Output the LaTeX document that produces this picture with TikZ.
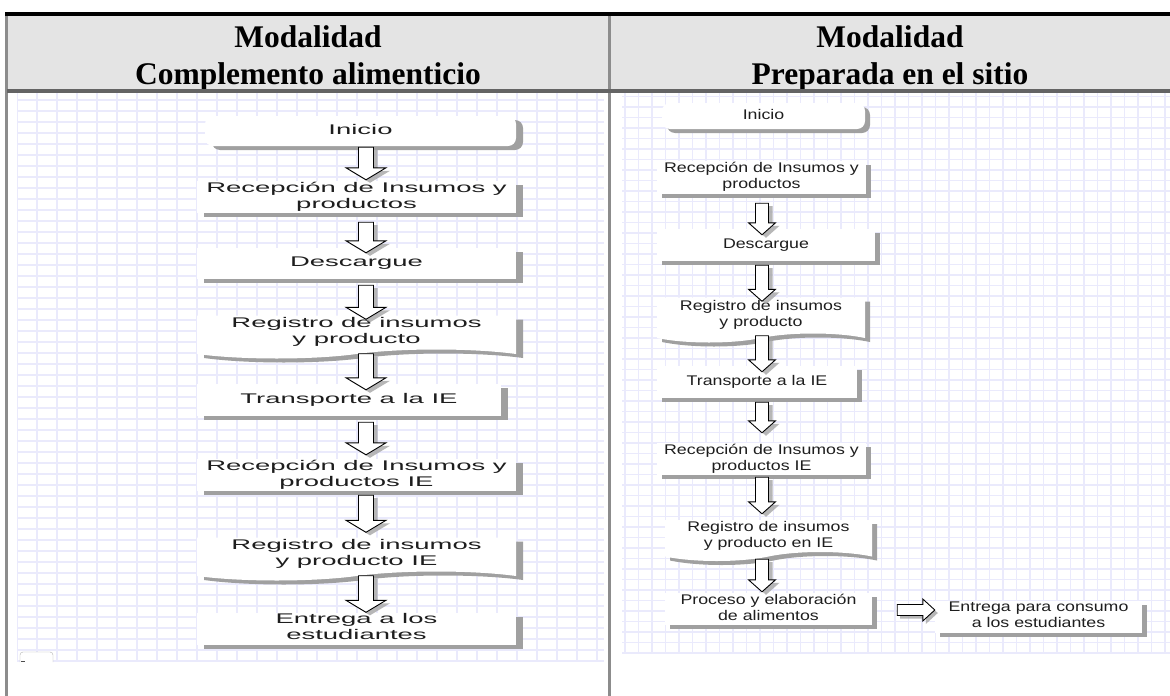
\documentclass[tikz,border=0pt]{standalone}
\usepackage{fontspec}
\setmainfont{Liberation Serif}
\newfontfamily\arialish{Liberation Sans}
\usetikzlibrary{calc,shapes.symbols,shadows}

\definecolor{hdrbg}{RGB}{228,228,228}
\definecolor{rulegray}{RGB}{140,140,140}
\definecolor{hdrline}{RGB}{100,100,100}
\definecolor{gridline}{RGB}{234,234,252}
\definecolor{boxshadow}{RGB}{160,160,160}
\definecolor{txt}{RGB}{30,30,30}

% flow-box labels, stretched horizontally as in the two charts
\newcommand\lcol[1]{\scalebox{1.96}[1]{\begin{tabular}{@{}c@{}}#1\end{tabular}}}
\newcommand\rcol[1]{\scalebox{1.27}[1]{\begin{tabular}{@{}c@{}}#1\end{tabular}}}

% hollow block arrow pointing down, tail (ta) to tip (tb); #1,#2 offset, #3 shaft half width, #4 head half width
\newcommand\vblockpath[4]{($(ta)+({-#3+#1},#2)$) -- ($(ta)+({#3+#1},#2)$) -- ($(tb)+({#3+#1},{-12+#2})$) -- ($(tb)+({#4+#1},{-12+#2})$) -- ($(tb)+(#1,#2)$) -- ($(tb)+({-#4+#1},{-12+#2})$) -- ($(tb)+({-#3+#1},{-12+#2})$) -- cycle}
% hollow block arrow pointing right
\newcommand\hblockpath[4]{($(ta)+(#1,{-#3+#2})$) -- ($(ta)+(#1,{#3+#2})$) -- ($(tb)+({-12+#1},{#3+#2})$) -- ($(tb)+({-12+#1},{#4+#2})$) -- ($(tb)+(#1,#2)$) -- ($(tb)+({-12+#1},{-#4+#2})$) -- ($(tb)+({-12+#1},{-#3+#2})$) -- cycle}

% column, source node, target node, tail offset, tip offset, shaft half width, head half width
\newcommand\downblock[7]{%
  \path ($(#2.south -| #1)+(0,#4)$) coordinate (ta) ($(#3.north -| #1)+(0,#5)$) coordinate (tb);
  \fill[arrowshade] \vblockpath{4}{3}{#6}{#7};
  \draw[blockarrow] \vblockpath{0}{0}{#6}{#7};}

\tikzset{
  gridln/.style={draw=gridline, line width=1.1pt},
  hdr/.style={anchor=base, inner sep=0pt, font=\bfseries\fontsize{31.5}{38}\selectfont},
  flowbox/.style={fill=white, inner sep=0pt, text=txt,
    font=\arialish\fontsize{14}{16}\selectfont},
  lbox/.style={flowbox, drop shadow={shadow xshift=7pt, shadow yshift=-4pt, fill=boxshadow, opacity=1}},
  rbox/.style={flowbox, drop shadow={shadow xshift=5pt, shadow yshift=-4pt, fill=boxshadow, opacity=1}},
  startbox/.style={rounded corners=8pt},
  docbox/.style={shape=tape, tape bend top=none, tape bend bottom=in and out, tape bend height=9pt},
  blockarrow/.style={draw=black, fill=white, line width=0.9pt, line join=miter},
  arrowshade/.style={fill=black!35, opacity=0.8},
}

\begin{document}
\begin{tikzpicture}[x=1pt, y=-1pt]
\useasboundingbox (0,0) rectangle (1170,696);
\fill[white] (0,0) rectangle (1170,696);

% table header
\fill[hdrbg] (7,16) rectangle (1170,89);
\fill[black] (5,12) rectangle (1170,16);
\fill[rulegray] (5,16) rectangle (8,696);
\fill[rulegray] (608,16) rectangle (611,696);

\node[hdr] (hl1) at (308,47) {Modalidad};
\node[hdr] (hl2) at (308,84) {Complemento alimenticio};
\node[hdr] (hr1) at (890,47) {Modalidad};
\node[hdr] (hr2) at (890,84) {Preparada en el sitio};

\fill[hdrline] (7,89) rectangle (1170,92.5);

% grid paper behind each chart
\begin{scope}
  \clip (17,93) rectangle (604,661);
  \foreach \k in {0,...,29} \draw[gridln] ({17+20*\k},93) -- ({17+20*\k},661);
  \foreach \k in {0,...,52} \draw[gridln] (17,{661-11*\k}) -- (604,{661-11*\k});
\end{scope}
\begin{scope}
  \clip (622,93) rectangle (1170,653);
  \foreach \k in {0,...,41} \draw[gridln] ({625+13.5*\k},93) -- ({625+13.5*\k},653);
  \foreach \k in {0,...,54} \draw[gridln] (622,{653-10.5*\k}) -- (1170,{653-10.5*\k});
\end{scope}

% leftover corner of a control at the bottom left
\draw[black!30, fill=white, rounded corners=3pt] (20,662) -- (20,652) -- (53,652) -- (53,662);
\draw[black!70, line width=0.8pt] (21,661) -- (25,661);

% left chart
\coordinate (colL) at (366,0);
\node[lbox, startbox, minimum width=311pt, minimum height=30pt] (lin) at (360.5,131) {\lcol{Inicio}};
\node[lbox, minimum width=319pt, minimum height=32pt] (lrec) at (356.5,197) {\lcol{Recepción de Insumos y\\productos}};
\node[lbox, minimum width=319pt, minimum height=31pt] (ldes) at (356.5,263.5) {\lcol{Descargue}};
\node[lbox, docbox, minimum width=319pt, minimum height=43pt] (lreg) at (356.5,332.5) {\lcol{Registro de insumos\\y producto}};
\node[lbox, minimum width=304pt, minimum height=32pt] (ltra) at (349,400) {\lcol{Transporte a la IE}};
\node[lbox, minimum width=319pt, minimum height=32pt] (lrie) at (356.5,475) {\lcol{Recepción de Insumos y\\productos IE}};
\node[lbox, docbox, minimum width=319pt, minimum height=43pt] (lrgi) at (356.5,554.5) {\lcol{Registro de insumos\\y producto IE}};
\node[lbox, minimum width=319pt, minimum height=31pt] (lent) at (356.5,628.5) {\lcol{Entrega a los\\estudiantes}};

\downblock{colL}{lin}{lrec}{1}{-1}{7.5}{20}
\downblock{colL}{lrec}{ldes}{9}{5}{7.5}{20}
\downblock{colL}{ldes}{lreg}{6}{4}{7.5}{20}
\downblock{colL}{lreg}{ltra}{4}{6}{7.5}{20}
\downblock{colL}{ltra}{lrie}{6}{-4}{7.5}{20}
\downblock{colL}{lrie}{lrgi}{4}{-5}{7.5}{20}
\downblock{colL}{lrgi}{lent}{4}{0}{7.5}{20}

% right chart
\coordinate (colR) at (762,0);
\node[rbox, startbox, minimum width=203pt, minimum height=26pt] (rin) at (763.5,116) {\rcol{Inicio}};
\node[rbox, minimum width=209pt, minimum height=33pt] (rrec) at (761.5,177.5) {\rcol{Recepción de Insumos y\\productos}};
\node[rbox, minimum width=218pt, minimum height=32pt] (rdes) at (766,245) {\rcol{Descargue}};
\node[rbox, docbox, minimum width=208pt, minimum height=45pt] (rreg) at (761,315.5) {\rcol{Registro de insumos\\y producto}};
\node[rbox, minimum width=200pt, minimum height=32pt] (rtra) at (757,382) {\rcol{Transporte a la IE}};
\node[rbox, minimum width=209pt, minimum height=32pt] (rrie) at (761.5,459) {\rcol{Recepción de Insumos y\\productos IE}};
\node[rbox, docbox, minimum width=207pt, minimum height=40pt] (rrgi) at (768.5,536) {\rcol{Registro de insumos\\y producto en IE}};
\node[rbox, minimum width=207pt, minimum height=30pt] (rpro) at (768.5,609) {\rcol{Proceso y elaboración\\de alimentos}};
\node[rbox, minimum width=207pt, minimum height=31pt] (rent) at (1038.5,616.5) {\rcol{Entrega para consumo\\a los estudiantes}};

\downblock{colR}{rrec}{rdes}{9}{6}{6.5}{13.5}
\downblock{colR}{rdes}{rreg}{4}{4}{6.5}{13.5}
\downblock{colR}{rreg}{rtra}{2}{6}{6.5}{13.5}
\downblock{colR}{rtra}{rrie}{4}{-10}{6.5}{13.5}
\downblock{colR}{rrie}{rrgi}{2}{-6}{6.5}{13.5}
\downblock{colR}{rrgi}{rpro}{7}{-1}{6.5}{13.5}

\path ($(rpro.east)+(25,1)$) coordinate (ta);
\path (ta -| rent.west) coordinate (tb);
\fill[arrowshade] \hblockpath{3}{3}{5.5}{11};
\draw[blockarrow] \hblockpath{0}{0}{5.5}{11};
\end{tikzpicture}
\end{document}
